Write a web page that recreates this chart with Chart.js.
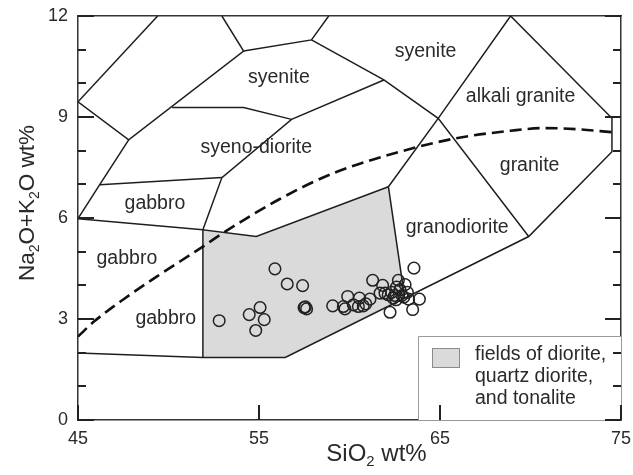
<!DOCTYPE html>
<html lang="en">
<head>
<meta charset="UTF-8">
<title>TAS diagram - plutonic rocks</title>
<style>
  body { margin: 0; background: #fff; }
  #wrap { width: 633px; height: 475px; }
</style>
<script src="https://cdn.jsdelivr.net/npm/chart.js"></script>
</head>
<body>
<div id="wrap"><canvas id="tas" width="633" height="475"></canvas></div>
<script>
const FONT = "'Liberation Sans', Arial, sans-serif";
const INK = '#2a2a2a';

const xTicks = [45, 55, 65, 75];
const yTicks = [0, 3, 6, 9, 12];
const yMinorTicks = [1, 2, 4, 5, 7, 8, 10, 11];

// field boundaries as [SiO2, Na2O+K2O] polylines
const fieldLines = [
    [[45, 9.45], [49.4, 12]],
    [[45, 9.45], [47.8, 8.32], [54.15, 10.96], [52.95, 12]],
    [[54.15, 10.96], [57.9, 11.29], [58.85, 12]],
    [[57.9, 11.29], [61.9, 10.1], [64.9, 8.96], [69.9, 5.45]],
    [[68.9, 12], [74.5, 8.96], [74.5, 7.97], [69.9, 5.45], [56.45, 1.86], [51.9, 1.86], [45, 1.99]],
    [[68.9, 12], [64.9, 8.96], [62.15, 6.93], [63.05, 3.62]],
    [[51.9, 1.86], [51.9, 5.65], [54.85, 5.45], [62.15, 6.93]],
    [[45, 5.98], [51.9, 5.65]],
    [[51.9, 5.65], [52.95, 7.2], [56.8, 8.93], [61.9, 10.1]],
    [[45, 5.98], [46.2, 6.99], [47.8, 8.32]],
    [[46.2, 6.99], [52.95, 7.2]],
    [[50.2, 9.28], [54.15, 9.28], [56.8, 8.93]]
];

// grey field: diorite, quartz diorite and tonalite
const dioriteField = [[51.9, 1.86], [51.9, 5.65], [54.85, 5.45], [62.15, 6.93], [63.05, 3.62], [56.45, 1.86], [51.9, 1.86]];

// alkaline / subalkaline dividing curve
const divideSiO2 = [45, 45.9, 47.5, 49.35, 51.9, 53.0, 56.1, 59.1, 62.8, 65.9, 68.9, 70.7, 72.5, 74.5];
const divideAlk  = [2.48, 2.93, 3.58, 4.26, 5.15, 5.55, 6.55, 7.33, 7.97, 8.37, 8.59, 8.67, 8.64, 8.55];

// samples
const sampleSiO2 = [52.8, 54.82, 54.46, 55.06, 55.29, 55.88, 56.56, 57.41, 57.49, 57.63, 57.56,
    59.07, 59.66, 59.75, 59.9, 60.21, 60.49, 60.55, 60.76, 60.9, 61.13, 61.28, 61.69, 61.83,
    61.96, 62.14, 62.24, 62.33, 62.42, 62.5, 62.57, 62.7, 62.79, 62.9, 63.07, 63.2, 63.26,
    63.0, 63.49, 63.56, 63.86, 62.6];
const sampleAlk = [2.95, 2.66, 3.13, 3.34, 2.98, 4.49, 4.04, 3.99, 3.34, 3.30, 3.36,
    3.39, 3.37, 3.30, 3.67, 3.42, 3.37, 3.62, 3.39, 3.45, 3.59, 4.15, 3.77, 4.0,
    3.77, 3.72, 3.2, 3.79, 3.62, 3.7, 3.57, 4.15, 3.87, 3.7, 4.02, 3.79, 3.59,
    3.65, 3.28, 4.51, 3.59, 3.95];

const fieldNames = ['syenite', 'syenite', 'alkali granite', 'syeno-diorite', 'gabbro', 'gabbro', 'gabbro', 'granite', 'granodiorite'];
const fieldX = [56.1, 64.2, 69.45, 54.85, 49.25, 47.7, 49.85, 69.95, 65.95];
const fieldY = [10.17, 10.94, 9.6, 8.09, 6.42, 4.78, 3.0, 7.56, 5.7];

const legendLines = ['fields of diorite,', 'quartz diorite,', 'and tonalite'];

const toXY = pts => pts.map(p => ({ x: p[0], y: p[1] }));

// draws text with subscript parts, starting at x (left), baseline y
function richText(ctx, parts, x, y, size) {
    let cx = x;
    parts.forEach(([t, sub]) => {
        ctx.font = (sub ? size * 0.62 : size) + 'px ' + FONT;
        ctx.fillText(t, cx, sub ? y + size * 0.2 : y);
        cx += ctx.measureText(t).width;
    });
}
function richWidth(ctx, parts, size) {
    let w = 0;
    parts.forEach(([t, sub]) => {
        ctx.font = (sub ? size * 0.62 : size) + 'px ' + FONT;
        w += ctx.measureText(t).width;
    });
    return w;
}

const tasText = {
    id: 'tasText',
    afterDatasetsDraw(chart) {
        const { ctx, chartArea: a } = chart;
        const sx = chart.scales.x, sy = chart.scales.y;
        ctx.save();
        ctx.fillStyle = INK;
        ctx.textAlign = 'center';
        ctx.textBaseline = 'middle';
        ctx.font = '19.5px ' + FONT;
        fieldNames.forEach((n, i) => {
            ctx.fillText(n, sx.getPixelForValue(fieldX[i]), sy.getPixelForValue(fieldY[i]));
        });

        // legend box, lower right corner of the plot
        const lx = a.right - 203, ly = a.bottom - 84;
        ctx.fillStyle = '#fff';
        ctx.fillRect(lx, ly, a.right - lx, a.bottom - ly);
        ctx.strokeStyle = '#9a9a9a';
        ctx.lineWidth = 1;
        ctx.beginPath();
        ctx.moveTo(lx + 0.5, a.bottom);
        ctx.lineTo(lx + 0.5, ly + 0.5);
        ctx.lineTo(a.right, ly + 0.5);
        ctx.stroke();
        ctx.fillStyle = '#dadada';
        ctx.fillRect(lx + 14, ly + 12, 28, 20);
        ctx.strokeStyle = '#8a8a8a';
        ctx.strokeRect(lx + 14.5, ly + 12.5, 27, 19);
        ctx.fillStyle = INK;
        ctx.textAlign = 'left';
        ctx.font = '19.5px ' + FONT;
        legendLines.forEach((t, i) => ctx.fillText(t, lx + 57, ly + 19 + i * 21.7));

        // axis titles
        ctx.textBaseline = 'alphabetic';
        const xt = [['SiO', 0], ['2', 1], [' wt%', 0]];
        const xw = richWidth(ctx, xt, 24);
        richText(ctx, xt, (a.left + a.right) / 2 + 27 - xw / 2, a.bottom + 41, 24);

        const yt = [['Na', 0], ['2', 1], ['O+K', 0], ['2', 1], ['O wt%', 0]];
        const yw = richWidth(ctx, yt, 22.5);
        ctx.translate(34, a.top + 187);
        ctx.rotate(-Math.PI / 2);
        richText(ctx, yt, -yw / 2, 0, 22.5);
        ctx.restore();
    },
    afterDraw(chart) {
        // inward tick marks on left, right and bottom
        const { ctx, chartArea: a } = chart;
        const sx = chart.scales.x, sy = chart.scales.y;
        ctx.save();
        ctx.setLineDash([]);
        ctx.strokeStyle = '#222';
        ctx.lineWidth = 2;
        ctx.beginPath();
        yTicks.concat(yMinorTicks).forEach(v => {
            const len = yTicks.includes(v) ? 16 : 8;
            const py = Math.round(sy.getPixelForValue(v));
            ctx.moveTo(a.left, py);
            ctx.lineTo(a.left + len, py);
            ctx.moveTo(a.right, py);
            ctx.lineTo(a.right - len, py);
        });
        xTicks.forEach(v => {
            const px = Math.round(sx.getPixelForValue(v));
            ctx.moveTo(px, a.bottom);
            ctx.lineTo(px, a.bottom - 15);
        });
        ctx.stroke();
        ctx.restore();
    }
};

const tickFont = { family: FONT, size: 18 };
const noPad = s => { s.paddingTop = 0; s.paddingBottom = 0; s.paddingLeft = 0; s.paddingRight = 0; };

const datasets = [
    {
        type: 'scatter', label: 'samples',
        data: sampleSiO2.map((x, i) => ({ x: x, y: sampleAlk[i] })),
        pointRadius: 5.8, borderWidth: 1.5, borderColor: '#222',
        backgroundColor: 'rgba(0,0,0,0)', order: 0
    },
    {
        type: 'line', label: 'alkaline-subalkaline',
        data: divideSiO2.map((x, i) => ({ x: x, y: divideAlk[i] })),
        borderColor: '#111', borderWidth: 2.6, borderDash: [12, 6],
        cubicInterpolationMode: 'monotone', pointRadius: 0, fill: false, order: 1
    }
];
fieldLines.forEach((seg, i) => datasets.push({
    type: 'line', label: 'boundary ' + i, data: toXY(seg),
    borderColor: '#1e1e1e', borderWidth: 1.5, pointRadius: 0, fill: false, tension: 0, order: 2
}));
datasets.push({
    type: 'line', label: legendLines.join(' '), data: toXY(dioriteField),
    fill: 'shape', backgroundColor: '#dadada', borderColor: 'rgba(0,0,0,0)',
    borderWidth: 1, pointRadius: 0, tension: 0, order: 3
});

new Chart(document.getElementById('tas'), {
    type: 'scatter',
    data: { datasets: datasets },
    plugins: [tasText],
    options: {
        responsive: false,
        animation: false,
        events: [],
        layout: { padding: { top: 16, right: 12, left: 0, bottom: 0 } },
        plugins: { legend: { display: false }, tooltip: { enabled: false } },
        scales: {
            x: {
                type: 'linear', position: 'bottom', min: 45, max: 75,
                afterBuildTicks: s => { s.ticks = xTicks.map(v => ({ value: v })); },
                afterFit: s => { s.height = 55; noPad(s); },
                ticks: { padding: 8, font: tickFont, color: INK, maxRotation: 0, autoSkip: false },
                grid: { drawOnChartArea: false, drawTicks: false },
                border: { color: '#333', width: 1.5 }
            },
            y: {
                type: 'linear', position: 'left', min: 0, max: 12,
                afterBuildTicks: s => { s.ticks = yTicks.map(v => ({ value: v })); },
                afterFit: s => { s.width = 78; noPad(s); },
                ticks: { padding: 10, font: tickFont, color: INK },
                grid: { drawOnChartArea: false, drawTicks: false },
                border: { color: '#333', width: 1.5 }
            },
            xTop: {
                type: 'linear', position: 'top', min: 45, max: 75,
                ticks: { display: false },
                grid: { drawOnChartArea: false, drawTicks: false },
                border: { color: '#333', width: 1.5 },
                afterFit: s => { s.height = 0; noPad(s); }
            },
            yRight: {
                type: 'linear', position: 'right', min: 0, max: 12,
                ticks: { display: false },
                grid: { drawOnChartArea: false, drawTicks: false },
                border: { color: '#333', width: 1.5 },
                afterFit: s => { s.width = 0; noPad(s); }
            }
        }
    }
});
</script>
</body>
</html>
